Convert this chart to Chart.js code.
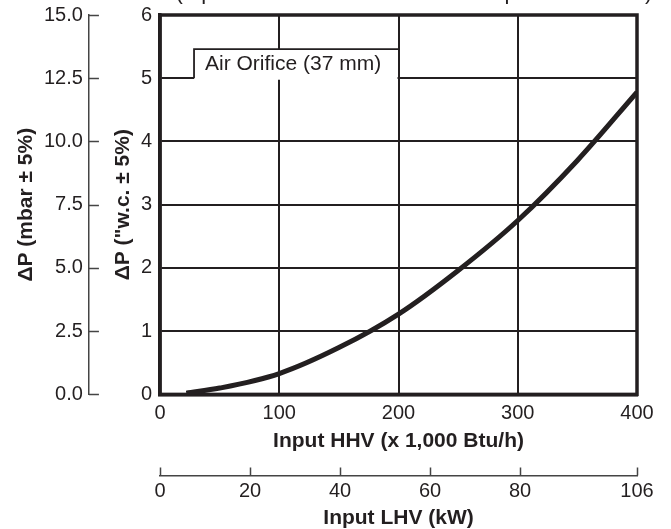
<!DOCTYPE html>
<html>
<head>
<meta charset="utf-8">
<script src="https://cdn.jsdelivr.net/npm/chart.js@4"></script>
<style>
  body { margin: 0; background: #fff; }
  #wrap { width: 671px; height: 529px; }
</style>
</head>
<body>
<div id="wrap"><canvas id="chart"></canvas></div>
<script>
const inputHHV = [22, 50, 100, 150, 200, 250, 300, 350, 400];
const pressureWC = [0.02, 0.1, 0.33, 0.74, 1.27, 1.96, 2.75, 3.7, 4.78];
const lhvTicks = [0, 20, 40, 60, 80, 106];
const noteText = "Air Orifice (37 mm)";
const topText = "(Input vs. Air Orifice Pressure Drop at Sea Level)";

const ink = "#231f20";
const face = "'Liberation Sans', Arial, sans-serif";
Chart.defaults.font.family = face;
Chart.defaults.font.size = 20;
Chart.defaults.color = ink;

const points = inputHHV.map((x, i) => ({ x: x, y: pressureWC[i] }));
const titleFont = { weight: "bold", size: 21 };

// frame round the plot, note box, inward ticks of the second axes, cut-off heading
const extras = {
  id: "extras",
  beforeDatasetsDraw(chart) {
    const { ctx, chartArea, scales } = chart;
    const x = scales.x;
    const y = scales.y;
    const x2 = scales.x2;
    const y2 = scales.y2;

    const left = x.getPixelForValue(28.5);
    const top = y.getPixelForValue(5.46);
    const right = x.getPixelForValue(200);
    const bottom = y.getPixelForValue(5);

    ctx.save();
    ctx.fillStyle = "#fff";
    ctx.fillRect(left, top, right - left - 1, bottom - top + 1.5);
    ctx.strokeStyle = ink;
    ctx.lineWidth = 1.8;
    ctx.beginPath();
    ctx.moveTo(left, bottom);
    ctx.lineTo(left, top);
    ctx.lineTo(right, top);
    ctx.stroke();

    ctx.fillStyle = ink;
    ctx.font = "21px " + face;
    ctx.textBaseline = "middle";
    ctx.fillText(noteText, left + 11, (top + bottom) / 2 + 1);

    ctx.lineWidth = 3.5;
    ctx.strokeRect(chartArea.left, chartArea.top, chartArea.right - chartArea.left, chartArea.bottom - chartArea.top);

    ctx.strokeStyle = "#444";
    ctx.lineWidth = 1.5;
    ctx.beginPath();
    y2.ticks.forEach(t => {
      const py = Math.round(y2.getPixelForValue(t.value)) + 0.5;
      ctx.moveTo(y2.right, py);
      ctx.lineTo(y2.right + 10, py);
    });
    x2.ticks.forEach(t => {
      const px = Math.round(x2.getPixelForValue(t.value)) + 0.5;
      ctx.moveTo(px, x2.top);
      ctx.lineTo(px, x2.top - 8);
    });
    ctx.stroke();

    ctx.textAlign = "center";
    ctx.textBaseline = "alphabetic";
    ctx.font = "22px " + face;
    ctx.fillText(topText, 414, -1);
    ctx.restore();
  }
};

new Chart(document.getElementById("chart"), {
  type: "line",
  data: {
    datasets: [
      {
        data: points,
        borderColor: ink,
        borderWidth: 5,
        pointRadius: 0,
        cubicInterpolationMode: "monotone",
        fill: false
      }
    ]
  },
  options: {
    responsive: true,
    maintainAspectRatio: false,
    animation: false,
    layout: { padding: { top: 0, right: 34, left: 9.4, bottom: -2 } },
    plugins: {
      legend: { display: false },
      tooltip: { enabled: false }
    },
    scales: {
      x: {
        type: "linear",
        position: "bottom",
        min: 0,
        max: 400,
        weight: 1,
        ticks: { stepSize: 100, padding: 3 },
        grid: { color: ink, lineWidth: 2, tickLength: 4, tickColor: "transparent" },
        border: { color: ink, width: 3.5 },
        title: {
          display: true,
          text: "Input HHV (x 1,000 Btu/h)",
          font: titleFont,
          padding: { top: 0, bottom: 21.8 }
        }
      },
      x2: {
        type: "linear",
        position: "bottom",
        min: 0,
        max: 106,
        weight: 2,
        afterBuildTicks(scale) {
          scale.ticks = lhvTicks.map(v => ({ value: v }));
        },
        ticks: { padding: 2 },
        grid: { drawOnChartArea: false, tickLength: 2, tickColor: "transparent" },
        border: { color: "#444", width: 1.5 },
        title: {
          display: true,
          text: "Input LHV (kW)",
          font: titleFont,
          padding: { top: 0.4, bottom: 0 }
        }
      },
      y: {
        type: "linear",
        position: "left",
        min: 0,
        max: 6,
        weight: 1,
        ticks: { stepSize: 1, padding: 3 },
        grid: { color: ink, lineWidth: 2, tickLength: 5, tickColor: "transparent" },
        border: { color: ink, width: 3.5 },
        title: {
          display: true,
          text: "ΔP (\"w.c. ± 5%)",
          font: titleFont,
          padding: { top: 21.4, bottom: 2.4 }
        }
      },
      y2: {
        type: "linear",
        position: "left",
        min: 0,
        max: 15,
        weight: 2,
        ticks: {
          stepSize: 2.5,
          padding: 2,
          callback: v => v.toFixed(1)
        },
        grid: { drawOnChartArea: false, tickLength: 4, tickColor: "transparent" },
        border: { color: "#444", width: 1.5 },
        title: {
          display: true,
          text: "ΔP (mbar ± 5%)",
          font: titleFont,
          padding: { top: 4, bottom: 3.4 }
        }
      }
    }
  },
  plugins: [extras]
});
</script>
</body>
</html>
